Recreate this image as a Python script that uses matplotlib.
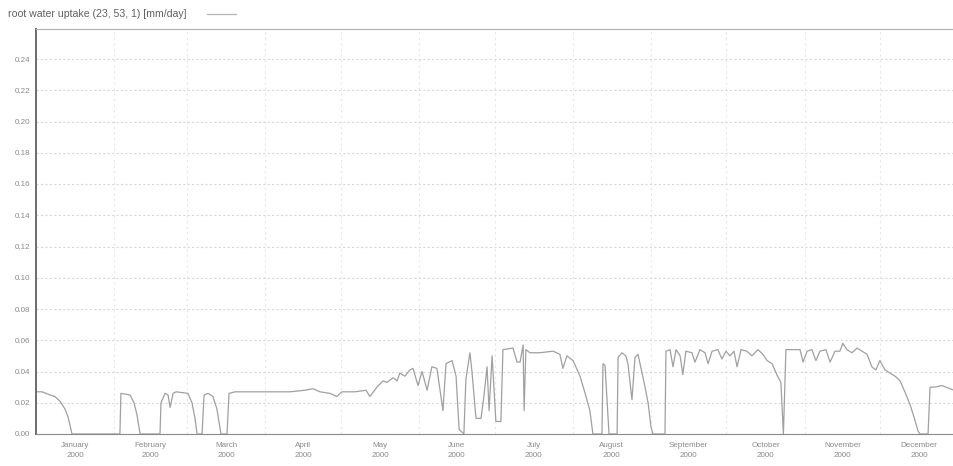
import numpy as np
import matplotlib
matplotlib.use("Agg")
import matplotlib.pyplot as plt

# day of year 2000 (0 = Jan 1) and root water uptake [mm/day]
days = [0, 2.4, 5.6, 7.5, 9.5, 11.5, 12.7, 14.3, 33.3, 33.7, 37.3, 38.9, 40.1, 41.3,
        49.2, 49.6, 51.2, 52.4, 53.2, 54.4, 55.6, 60.3, 61.9, 63.1, 63.9, 65.9, 66.7,
        68.3, 70.2, 71.8, 73.4, 75.8, 76.6, 79.0, 88.9, 100.8, 106.7, 109.9, 112.7,
        116.7, 119.4, 121.4, 126.6, 131.0, 132.5, 135.3, 137.7, 139.3, 141.7, 143.3,
        144.4, 146.4, 148.4, 149.6, 151.6, 153.2, 155.2, 157.1, 159.1, 161.5, 162.7,
        165.1, 166.7, 167.9, 169.8, 170.6, 172.2, 173.0, 174.6, 176.6, 177.8, 179.0,
        179.8, 181.0, 182.5, 184.5, 185.3, 189.3, 190.9, 192.1, 193.3, 193.7, 194.4,
        196.0, 200.0, 205.2, 207.9, 209.1, 210.7, 213.1, 215.9, 217.9, 219.8, 221.0,
        224.6, 225.0, 225.8, 226.6, 227.4, 230.6, 231.0, 232.5, 234.1, 234.9, 236.5,
        237.7, 238.9, 240.5, 241.7, 242.9, 244.0, 244.8, 249.6, 250.0, 251.6, 252.8,
        254.0, 255.6, 256.7, 257.9, 260.3, 261.5, 263.5, 265.5, 266.7, 268.3, 270.6,
        272.2, 273.8, 275.4, 277.0, 278.2, 279.8, 282.1, 284.1, 286.5, 288.5, 290.1,
        292.1, 294.0, 295.6, 296.6, 297.6, 299.2, 303.2, 304.4, 306.0, 307.9, 309.5,
        311.1, 313.5, 315.1, 317.1, 319.0, 320.2, 321.8, 323.8, 325.8, 327.8, 329.8,
        331.7, 333.3, 334.9, 336.9, 338.9, 340.9, 342.9, 344.8, 346.8, 348.4, 350.0,
        350.8, 354.0, 354.8, 356.7, 359.5, 362.7, 364.3]
uptake = [0.027, 0.027, 0.025, 0.024, 0.021, 0.016, 0.011, 0.0, 0.0, 0.026, 0.025, 0.020, 0.012, 0.0,
          0.0, 0.020, 0.026, 0.025, 0.017, 0.026, 0.027, 0.026, 0.020, 0.010, 0.0, 0.0, 0.025,
          0.026, 0.024, 0.016, 0.0, 0.0, 0.026, 0.027, 0.027, 0.027, 0.028, 0.029, 0.027,
          0.026, 0.024, 0.027, 0.027, 0.028, 0.024, 0.030, 0.034, 0.033, 0.036, 0.034,
          0.039, 0.037, 0.041, 0.042, 0.031, 0.040, 0.028, 0.043, 0.042, 0.015, 0.045,
          0.047, 0.037, 0.003, 0.0, 0.035, 0.052, 0.040, 0.010, 0.010, 0.025, 0.043,
          0.015, 0.050, 0.008, 0.008, 0.054, 0.055, 0.046, 0.046, 0.057, 0.015, 0.054,
          0.052, 0.052, 0.053, 0.051, 0.042, 0.050, 0.047, 0.037, 0.026, 0.015, 0.0,
          0.0, 0.045, 0.044, 0.022, 0.0, 0.0, 0.049, 0.052, 0.050, 0.045, 0.022,
          0.049, 0.051, 0.039, 0.030, 0.020, 0.005, 0.0, 0.0, 0.053, 0.054, 0.043,
          0.054, 0.050, 0.038, 0.053, 0.052, 0.046, 0.054, 0.052, 0.045, 0.053, 0.054,
          0.048, 0.053, 0.050, 0.053, 0.043, 0.054, 0.053, 0.050, 0.054, 0.051, 0.047,
          0.045, 0.038, 0.033, 0.0, 0.054, 0.054, 0.054, 0.046, 0.053, 0.054, 0.047,
          0.053, 0.054, 0.046, 0.053, 0.053, 0.058, 0.054, 0.052, 0.055, 0.053, 0.051,
          0.043, 0.041, 0.047, 0.041, 0.039, 0.037, 0.034, 0.027, 0.019, 0.011, 0.002,
          0.0, 0.0, 0.030, 0.030, 0.031, 0.029, 0.028]

month_names = ["January", "February", "March", "April", "May", "June", "July",
               "August", "September", "October", "November", "December"]
month_len = [31, 29, 31, 30, 31, 30, 31, 31, 30, 31, 30, 31]
year = "2000"
y_ticks = [0.00, 0.02, 0.04, 0.06, 0.08, 0.10, 0.12, 0.14, 0.16, 0.18, 0.20, 0.22, 0.24]
series_label = "root water uptake (23, 53, 1) [mm/day]"

plt.rcParams["font.family"] = ["Liberation Sans", "DejaVu Sans"]

fig = plt.figure(figsize=(9.54, 4.66), dpi=100)
ax = fig.add_axes([36 / 954, 32 / 466, 918 / 954, 405 / 466])

ax.plot(days, uptake, color="#a0a0a0", lw=0.9)

month_start = np.concatenate([[0], np.cumsum(month_len)[:-1]])
month_mid = month_start + np.array(month_len) / 2.0

ax.set_xlim(0, 364.3)
ax.set_ylim(0, 0.2592)
ax.set_yticks(y_ticks)
ax.set_yticklabels([f"{v:.2f}" for v in y_ticks])
ax.set_xticks(month_start[1:])
ax.set_xticklabels([])
ax.set_xticks(month_mid, minor=True)
ax.set_xticklabels([f"{m}\n{year}" for m in month_names], minor=True)

ax.tick_params(axis="x", which="both", length=0, pad=6)
ax.tick_params(axis="y", length=0, pad=4)
ax.tick_params(which="both", labelsize=5.8, labelcolor="#8a8a8a")
for lab in ax.get_xticklabels(minor=True):
    lab.set_linespacing(1.6)

ax.grid(axis="y", color="#d8d8d8", lw=0.8, ls=(0, (2, 2)))
ax.grid(axis="x", which="major", color="#e6e6e6", lw=0.8, ls=(0, (2, 3)))

ax.spines["left"].set_color("#6a6a70")
ax.spines["left"].set_linewidth(1.4)
ax.spines["bottom"].set_color("#8a8a8a")
ax.spines["top"].set_color("#b0b0b0")
ax.spines["right"].set_visible(False)

fig.text(8 / 954, 1 - 14 / 466, series_label, fontsize=7.6, color="#606060",
         va="center", ha="left")
fig.add_artist(plt.Line2D([207 / 954, 236 / 954], [1 - 14 / 466, 1 - 14 / 466],
                          color="#b5b5b5", lw=0.9))

fig.savefig("out.png", dpi=100)
